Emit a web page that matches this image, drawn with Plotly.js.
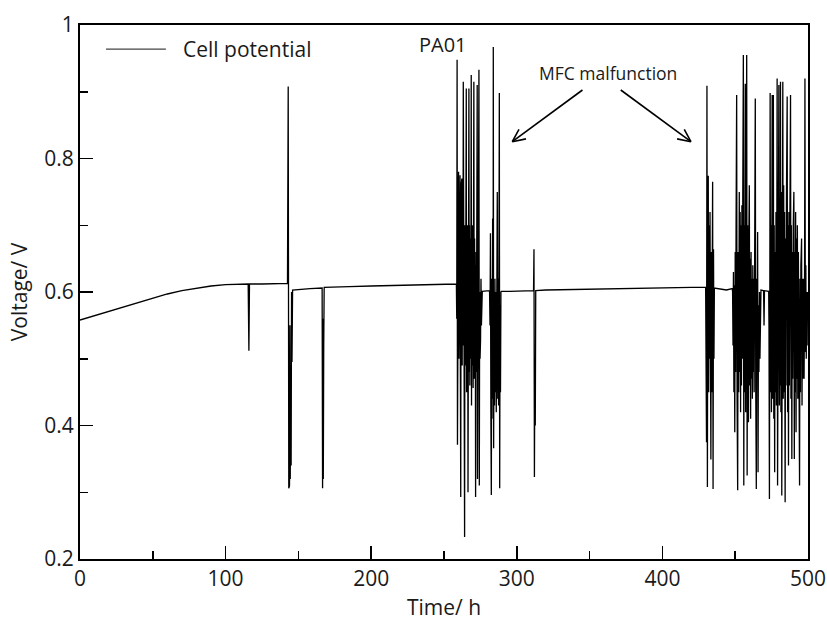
<!DOCTYPE html>
<html>
<head>
<meta charset="utf-8">
<script src="https://cdn.plot.ly/plotly-3.0.1.min.js"></script>
<style>html,body{margin:0;padding:0;background:#fff;}#chart{width:827px;height:621px;}</style>
</head>
<body>
<div id="chart"></div>
<script>
// [time (h), cell potential (V)], segment by segment
const baselineStart = [
 [0,0.558],[10,0.5645],[20,0.571],[30,0.577],[40,0.584],[50,0.591],[60,0.597],[70,0.602],[80,0.606],[90,0.609],
 [100,0.611],[110,0.612],[115.5,0.612],[116,0.512],[116.4,0.612],[125,0.612],[135,0.612],[142.5,0.613],
 [143,0.908],[143.2,0.612],[143.4,0.306],[143.7,0.58],[143.9,0.31],[144.2,0.55],[144.4,0.32],[144.7,0.49],
 [145,0.34],[145.3,0.60],[145.6,0.495],[146,0.603],[150,0.604],[158,0.605],[166.3,0.606],[166.6,0.306],
 [166.9,0.56],[167.1,0.32],[167.4,0.52],[167.7,0.607],[175,0.607],[185,0.608],[200,0.609],[215,0.610],
 [230,0.611],[245,0.611],[258.5,0.612]
];
const burst1 = [
 [258.75,0.56],[259.0,0.948],[259.25,0.371],[259.5,0.776],[259.75,0.51],[260.0,0.78],[260.25,0.50],[260.5,0.77],
 [260.75,0.52],[261.0,0.775],[261.25,0.48],[261.5,0.293],[261.75,0.76],[262.0,0.51],[262.25,0.77],[262.5,0.49],
 [262.75,0.74],[263.0,0.52],[263.25,0.915],[263.5,0.50],[263.75,0.71],[264.0,0.46],[264.15,0.233],[264.4,0.70],
 [264.75,0.49],[265.0,0.68],[265.3,0.905],[265.5,0.45],[265.75,0.68],[266.0,0.50],[266.25,0.70],[266.5,0.30],
 [266.75,0.66],[267.1,0.905],[267.3,0.48],[267.5,0.70],[267.75,0.46],[268.0,0.68],[268.25,0.50],[268.5,0.66],
 [268.7,0.925],[268.9,0.43],[269.1,0.68],[269.4,0.49],[269.7,0.70],[270.0,0.456],[270.25,0.66],[270.5,0.915],
 [270.75,0.47],[271.0,0.68],[271.25,0.50],[271.5,0.64],[271.7,0.293],[272.0,0.66],[272.25,0.48],[272.5,0.64],
 [272.8,0.91],[273.0,0.32],[273.25,0.62],[273.5,0.50],[273.75,0.66],[274.0,0.933],[274.25,0.31],[274.5,0.60],
 [274.75,0.50],[275.1,0.528],[275.4,0.62],[275.7,0.55],[276.0,0.60],[276.3,0.601],[281.0,0.602]
];
const burst2 = [
 [281.3,0.60],[281.6,0.55],[281.9,0.688],[282.2,0.42],[282.5,0.296],[282.8,0.62],[283.1,0.44],[283.4,0.71],
 [283.7,0.41],[283.85,0.967],[284.1,0.366],[284.4,0.60],[284.7,0.43],[285.0,0.62],[285.3,0.45],[285.6,0.60],
 [285.9,0.42],[286.2,0.62],[286.6,0.75],[286.9,0.44],[287.2,0.62],[287.5,0.43],[287.8,0.60],[288.0,0.898],
 [288.25,0.306],[288.5,0.58],[288.8,0.45],[289.1,0.60],[289.4,0.601]
];
const baselineMiddle = [
 [295,0.601],[305,0.602],[311.5,0.602],[311.8,0.664],[312.1,0.323],[312.4,0.50],[312.7,0.40],[313.0,0.602],
 [320,0.603],[340,0.604],[360,0.605],[380,0.606],[400,0.607],[420,0.607],[429.7,0.607]
];
const burst3 = [
 [430.0,0.45],[430.3,0.375],[430.6,0.909],[430.9,0.308],[431.2,0.70],[431.5,0.774],[431.8,0.45],[432.1,0.70],
 [432.4,0.50],[432.7,0.72],[433.0,0.47],[433.3,0.349],[433.6,0.66],[433.9,0.45],[434.2,0.62],[434.5,0.765],
 [434.8,0.305],[435.1,0.664],[435.4,0.50],[435.7,0.606],[440,0.604],[444,0.603],[448,0.605]
];
const burst4 = [
 [448.2,0.60],[448.5,0.52],[448.8,0.63],[449.1,0.45],[449.4,0.61],[449.7,0.39],[450.0,0.66],[450.3,0.48],
 [450.6,0.70],[451.0,0.895],[451.3,0.44],[451.7,0.303],[452.0,0.66],[452.4,0.45],[452.8,0.75],[453.1,0.48],
 [453.4,0.72],[453.7,0.42],[454.0,0.70],[454.3,0.46],[454.6,0.73],[454.9,0.50],[455.2,0.74],[455.6,0.955],
 [455.9,0.31],[456.2,0.70],[456.5,0.45],[456.9,0.912],[457.2,0.42],[457.5,0.72],[457.9,0.955],[458.2,0.325],
 [458.5,0.70],[458.8,0.43],[459.1,0.405],[459.4,0.69],[459.7,0.76],[460.0,0.46],[460.3,0.65],[460.6,0.41],
 [460.9,0.66],[461.2,0.47],[461.5,0.62],[461.8,0.44],[462.1,0.64],[462.4,0.48],[462.7,0.62],[463.0,0.45],
 [463.4,0.66],[463.8,0.89],[464.1,0.46],[464.5,0.305],[464.8,0.62],[465.1,0.50],[465.4,0.69],[465.7,0.33],
 [466.0,0.58],[466.3,0.48],[466.7,0.60],[467.0,0.50],[467.4,0.60],[467.7,0.603],[469.5,0.602],[469.8,0.55],
 [470.1,0.602],[473.0,0.601]
];
const burst5 = [
 [473.2,0.55],[473.5,0.29],[473.8,0.62],[474.0,0.898],[474.3,0.45],[474.6,0.70],[474.9,0.42],[475.2,0.66],
 [475.4,0.895],[475.7,0.44],[476.0,0.68],[476.2,0.895],[476.5,0.41],[476.8,0.70],[477.1,0.33],[477.4,0.66],
 [477.7,0.45],[478.0,0.72],[478.3,0.43],[478.6,0.70],[478.8,0.92],[479.1,0.31],[479.4,0.68],[479.7,0.47],
 [480.0,0.91],[480.3,0.43],[480.6,0.74],[480.9,0.46],[481.1,0.915],[481.4,0.42],[481.7,0.75],[482.0,0.295],
 [482.3,0.70],[482.7,0.915],[483.0,0.44],[483.3,0.76],[483.6,0.45],[483.9,0.72],[484.3,0.285],[484.6,0.68],
 [484.9,0.46],[485.2,0.74],[485.7,0.893],[486.0,0.42],[486.3,0.70],[486.6,0.34],[486.9,0.72],[487.2,0.46],
 [487.5,0.68],[488.0,0.895],[488.3,0.44],[488.6,0.70],[488.9,0.35],[489.2,0.66],[489.5,0.47],[489.9,0.70],
 [490.3,0.75],[490.6,0.35],[490.9,0.66],[491.2,0.45],[491.5,0.72],[491.8,0.39],[492.1,0.68],[492.4,0.47],
 [492.7,0.70],[493.0,0.44],[493.4,0.66],[493.8,0.48],[494.2,0.31],[494.5,0.62],[494.8,0.45],[495.1,0.64],
 [495.6,0.68],[495.9,0.43],[496.2,0.62],[496.6,0.47],[497.0,0.62],[497.3,0.47],[497.6,0.58],[497.9,0.92],
 [498.2,0.51],[498.5,0.64],[498.8,0.50],[499.1,0.60],[499.4,0.52],[499.7,0.60],[500.0,0.57]
];
const xTickVals = [0,100,200,300,400,500];
const yTickVals = [0.2,0.4,0.6,0.8,1];
const seriesName = "Cell potential";
const sampleLabel = "PA01";
const noteLabel = "MFC malfunction";

const allPoints = [].concat(baselineStart, burst1, burst2, baselineMiddle, burst3, burst4, burst5);
const timeH = allPoints.map(p => p[0]);
const voltageV = allPoints.map(p => p[1]);

const font = "'Open Sans', 'DejaVu Sans', sans-serif";
const ink = "#1a1a1a";

const trace = {
  x: timeH, y: voltageV, type: "scatter", mode: "lines", name: seriesName,
  line: {color: "#000", width: 1.3}, showlegend: false
};

// arrow geometry (data coordinates)
function seg(x0,y0,x1,y1){return {type:"line",xref:"x",yref:"y",x0:x0,y0:y0,x1:x1,y1:y1,line:{color:"#000",width:1.6}};}
const shapes = [
  seg(345.1,0.9026,296.9,0.8252), seg(296.9,0.8252,306.3,0.8294), seg(296.9,0.8252,301.5,0.8436),
  seg(371.4,0.9026,419.6,0.8252), seg(419.6,0.8252,410.1,0.8294), seg(419.6,0.8252,415.0,0.8436),
  {type:"line",xref:"paper",yref:"paper",x0:0.0357,x1:0.118,y0:0.955,y1:0.955,line:{color:"#444",width:1.2}}
];

const layout = {
  width: 827, height: 621,
  margin: {l: 80, r: 19, t: 25, b: 62},
  paper_bgcolor: "#fff", plot_bgcolor: "#fff",
  font: {family: font, size: 21, color: ink},
  xaxis: {
    range: [0, 500], tickvals: xTickVals, ticks: "inside", ticklen: 13, tickwidth: 1.5, tickcolor: "#000",
    showline: true, linecolor: "#000", linewidth: 2, mirror: true, showgrid: false, zeroline: false,
    minor: {ticks: "inside", ticklen: 8, tickwidth: 1.5, tickcolor: "#000", dtick: 50, showgrid: false},
    tickfont: {family: font, size: 21, color: ink},
    title: {text: "Time/ h", font: {family: font, size: 21, color: ink}, standoff: 11}
  },
  yaxis: {
    range: [0.2, 1], tickvals: yTickVals, ticks: "inside", ticklen: 13, tickwidth: 1.5, tickcolor: "#000",
    showline: true, linecolor: "#000", linewidth: 2, mirror: true, showgrid: false, zeroline: false,
    minor: {ticks: "inside", ticklen: 8, tickwidth: 1.5, tickcolor: "#000", dtick: 0.1, showgrid: false},
    tickfont: {family: font, size: 21, color: ink},
    title: {text: "Voltage/ V", font: {family: font, size: 21, color: ink}, standoff: 11}
  },
  shapes: shapes,
  annotations: [
    {text: seriesName, xref: "paper", yref: "paper", x: 0.1387, y: 0.955, xanchor: "left", yanchor: "middle", showarrow: false, font: {family: font, size: 21, color: ink}},
    {text: sampleLabel, xref: "x", yref: "y", x: 249, y: 0.9715, xanchor: "center", yanchor: "middle", showarrow: false, font: {family: font, size: 20, color: ink}},
    {text: noteLabel, xref: "x", yref: "y", x: 362.5, y: 0.928, xanchor: "center", yanchor: "middle", showarrow: false, font: {family: font, size: 17.5, color: ink}}
  ],
  showlegend: false
};

Plotly.newPlot("chart", [trace], layout, {staticPlot: true, displayModeBar: false});
</script>
</body>
</html>
